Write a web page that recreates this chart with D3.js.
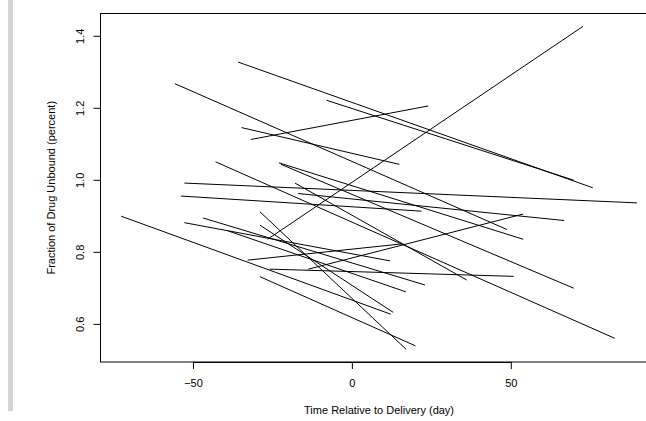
<!DOCTYPE html>
<html>
<head>
<meta charset="utf-8">
<script src="https://cdn.jsdelivr.net/npm/d3@7"></script>
<style>
  html, body { margin: 0; padding: 0; background: #fff; }
  svg { display: block; }
  text { font-family: "Liberation Sans", Arial, sans-serif; fill: #000; }
</style>
</head>
<body>
<svg id="chart" width="646" height="421"></svg>
<script>
// ---- data (one segment per subject: two visits) ----
const subjects  = ["A","B","C","D","E","F","G","H","I","J","L","M","N","O","P","Q","R","S","T","U","Y","Z","W"];
const timeStart = [-35.8, -8.0, -31.8, -34.7, -52.7, -53.8, -16.9, -46.8, -52.7, -28.9, -13.7, -32.8, -25.8, -28.9, -55.7, -22.9, -22.3, -42.9, -17.9, -26.5, -38.9, -28.9, -72.6];
const timeEnd   = [ 75.8, 69.8,  24.0,  14.9,  89.7,  21.9,  66.8,  23.0,  12.0,  17.0,  53.9,  15.6,  50.9,  20.0,  48.8,  53.9,  69.8,  82.7,  36.1,  72.7,  17.0,  13.0,  12.2];
const fuStart   = [1.327, 1.221, 1.112, 1.145, 0.991, 0.955, 0.962, 0.894, 0.881, 0.911, 0.752, 0.777, 0.752, 0.731, 1.267, 1.047, 1.043, 1.050, 0.991, 0.835, 0.858, 0.874, 0.899];
const fuEnd     = [0.978, 0.999, 1.205, 1.043, 0.936, 0.913, 0.887, 0.708, 0.775, 0.530, 0.905, 0.822, 0.732, 0.539, 0.862, 0.835, 0.699, 0.560, 0.722, 1.426, 0.689, 0.632, 0.627];
const xTicks = [-50, 0, 50];
const yTicks = [0.6, 0.8, 1.0, 1.2, 1.4];
const xTitle = "Time Relative to Delivery (day)";
const yTitle = "Fraction of Drug Unbound (percent)";

// ---- layout ----
const svg = d3.select("#chart");
const pLeft = 100.5, pRight = 657.6, pTop = 13.5, pBottom = 362;

function padded(lo, hi) { const d = (hi - lo) * 0.04; return [lo - d, hi + d]; }
const xs = d3.scaleLinear()
  .domain(padded(d3.min(timeStart.concat(timeEnd)), d3.max(timeStart.concat(timeEnd))))
  .range([pLeft, pRight]);
const ys = d3.scaleLinear()
  .domain(padded(d3.min(fuStart.concat(fuEnd)), d3.max(fuStart.concat(fuEnd))))
  .range([pBottom, pTop]);

// grey strip at left
svg.append("rect").attr("x", 8).attr("y", 0).attr("width", 5).attr("height", 411).attr("fill", "#d6d6d6");

// segments
const segs = subjects.map((s, i) => ({ s, x1: timeStart[i], x2: timeEnd[i], y1: fuStart[i], y2: fuEnd[i] }));
svg.append("g").selectAll("line").data(segs).join("line")
  .attr("x1", d => xs(d.x1)).attr("x2", d => xs(d.x2))
  .attr("y1", d => ys(d.y1)).attr("y2", d => ys(d.y2))
  .attr("stroke", "#000").attr("stroke-width", 1);

// box
svg.append("rect").attr("x", pLeft).attr("y", pTop).attr("width", pRight - pLeft).attr("height", pBottom - pTop)
  .attr("fill", "none").attr("stroke", "#000").attr("stroke-width", 1);

// x axis
const xAxis = d3.axisBottom(xs).tickValues(xTicks).tickSize(7).tickSizeOuter(0).tickPadding(0).tickFormat(d3.format("d"));
const gx = svg.append("g").attr("transform", `translate(0,${pBottom})`).call(xAxis);
gx.select(".domain").attr("d", `M${xs(xTicks[0])},0.5H${xs(xTicks[xTicks.length-1])}`).attr("stroke", "#000");
gx.selectAll(".tick line").attr("stroke", "#000");
gx.selectAll(".tick text").attr("y", 25).attr("dy", null).attr("font-size", 11)
  .attr("font-family", "Liberation Sans, Arial, sans-serif").attr("fill", "#000");

// y axis
const yAxis = d3.axisLeft(ys).tickValues(yTicks).tickSize(7).tickSizeOuter(0).tickFormat(d3.format(".1f"));
const gy = svg.append("g").attr("transform", `translate(${pLeft},0)`).call(yAxis);
gy.select(".domain").attr("d", `M0,${ys(yTicks[0])}V${ys(yTicks[yTicks.length-1])}`).attr("stroke", "#000");
gy.selectAll(".tick line").attr("stroke", "#000");
gy.selectAll(".tick text")
  .attr("x", null).attr("dy", null)
  .attr("transform", "translate(-17,0) rotate(-90)")
  .attr("text-anchor", "middle").attr("font-size", 11)
  .attr("font-family", "Liberation Sans, Arial, sans-serif").attr("fill", "#000");

// titles
svg.append("text").attr("x", (pLeft + pRight) / 2).attr("y", 414).attr("text-anchor", "middle")
  .attr("font-size", 11).text(xTitle);
svg.append("text").attr("transform", `translate(55,${(pTop + pBottom) / 2}) rotate(-90)`)
  .attr("text-anchor", "middle").attr("font-size", 11).text(yTitle);
</script>
</body>
</html>
